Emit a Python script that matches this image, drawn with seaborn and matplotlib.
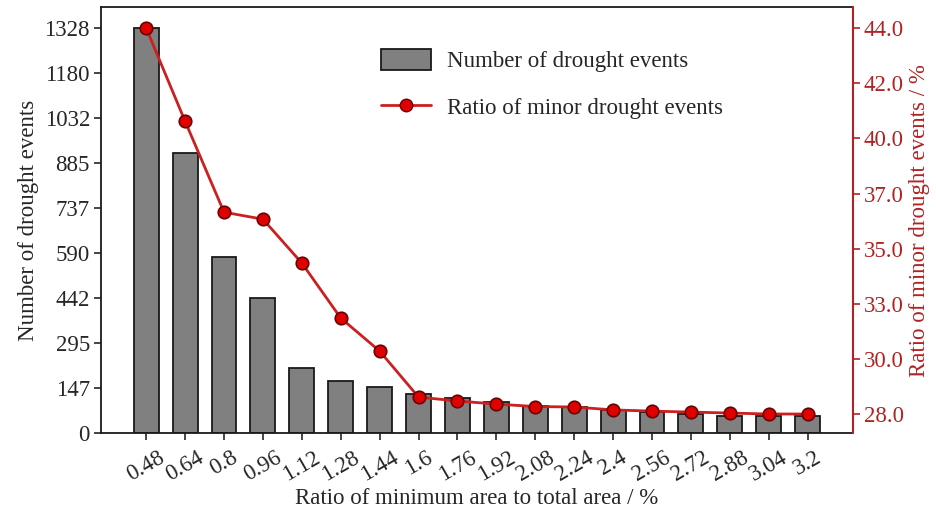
import matplotlib
matplotlib.use("Agg")
import matplotlib.pyplot as plt
import seaborn as sns
import pandas as pd
import numpy as np
from matplotlib.patches import Patch
from matplotlib.lines import Line2D

sns.set_style("ticks")
plt.rcParams['font.family'] = ['Liberation Serif', 'DejaVu Serif']

# data
area_ratio = ["0.48", "0.64", "0.8", "0.96", "1.12", "1.28", "1.44", "1.6", "1.76",
              "1.92", "2.08", "2.24", "2.4", "2.56", "2.72", "2.88", "3.04", "3.2"]
drought_events = [1328, 918, 577, 443, 213, 170, 151, 128, 115,
                  102, 90, 85, 74, 69, 63, 57, 57, 57]
minor_ratio = [44.0, 40.14, 36.37, 36.08, 34.26, 31.98, 30.61, 28.70, 28.54,
               28.41, 28.31, 28.29, 28.17, 28.12, 28.08, 28.04, 28.0, 28.0]

left_ticks = ["0", "147", "295", "442", "590", "737", "885", "1032", "1180", "1328"]
right_ticks = ["28.0", "30.0", "33.0", "35.0", "37.0", "40.0", "42.0", "44.0"]

df = pd.DataFrame({"ratio": area_ratio, "events": drought_events, "minor": minor_ratio})

red_line = "#cc1f1f"
red_axis = "#b22222"
fs = 16.5

fig = plt.figure(figsize=(9.36, 5.18), dpi=100)
ax = fig.add_axes([0.108, 0.164, 0.803, 0.822])

sns.barplot(data=df, x="ratio", y="events", ax=ax, color="#808080",
            saturation=1, width=0.64, edgecolor="#1a1a1a", linewidth=1.3)
ax.set_ylim(0, 1397)
ax.set_xlim(-1.16, 18.16)
ax.set_yticks(np.linspace(0, 1328, 10))
ax.set_yticklabels(left_ticks, fontsize=fs)
ax.set_xticks(range(len(area_ratio)))
ax.set_xticklabels(area_ratio, rotation=30, ha="center", fontsize=fs)
ax.set_xlabel("Ratio of minimum area to total area / %", fontsize=fs, labelpad=2)
ax.set_ylabel("Number of drought events", fontsize=fs, labelpad=4)
ax.tick_params(direction="out", length=5, width=1.2, pad=3)
ax.tick_params(axis="x", pad=5)
for s in ax.spines.values():
    s.set_linewidth(1.3)
    s.set_color("#1a1a1a")

ax2 = ax.twinx()
sns.pointplot(data=df, x="ratio", y="minor", ax=ax2, color=red_line,
              markers="o", markersize=9, linewidth=2,
              markeredgecolor="#6b0000", markeredgewidth=1.2, markerfacecolor="#e00000")
ax2.set_xlim(-1.16, 18.16)
ax2.set_ylim(27.21, 44.87)
ax2.set_yticks(np.linspace(28, 44, 8))
ax2.set_yticklabels(right_ticks, fontsize=fs, color=red_axis)
ax2.set_ylabel("Ratio of minor drought events / %", fontsize=fs, color=red_axis, labelpad=4)
ax2.tick_params(axis="y", direction="out", length=5, width=1.2, colors=red_axis, pad=3)
ax2.spines["right"].set_color(red_axis)
ax2.spines["right"].set_linewidth(1.5)
ax2.spines["top"].set_visible(False)
ax2.spines["left"].set_visible(False)
ax2.spines["bottom"].set_visible(False)

handles = [Patch(facecolor="#808080", edgecolor="#1a1a1a", linewidth=1.3),
           Line2D([0], [0], color=red_line, linewidth=2, marker="o", markersize=9,
                  markerfacecolor="#e00000", markeredgecolor="#6b0000")]
ax.legend(handles, ["Number of drought events", "Ratio of minor drought events"],
          loc="upper left", bbox_to_anchor=(0.345, 0.95), frameon=False,
          fontsize=fs, handlelength=2.2, handleheight=1.0, handletextpad=0.7,
          labelspacing=1.05)

fig.savefig("out.png", dpi=100)
